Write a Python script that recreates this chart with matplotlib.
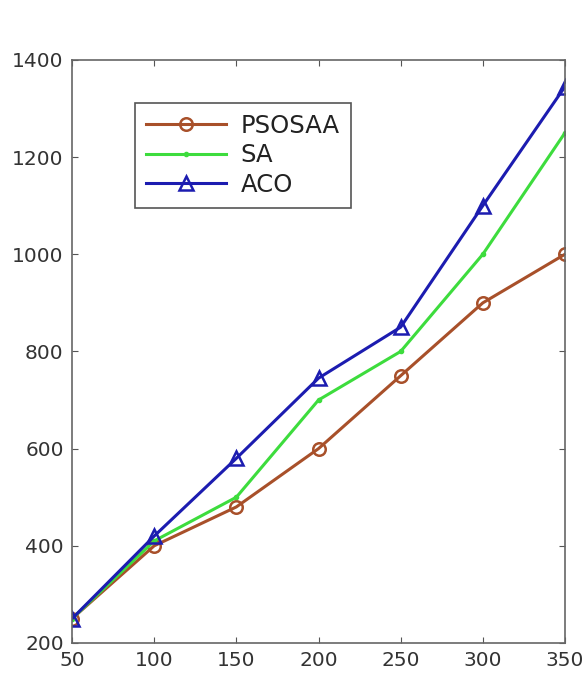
import matplotlib
matplotlib.use("Agg")
import matplotlib.pyplot as plt

plt.rcParams['font.family'] = ['DejaVu Sans']

x = [50, 100, 150, 200, 250, 300, 350]
psosaa = [250, 400, 480, 600, 750, 900, 1000]
sa = [250, 410, 500, 700, 800, 1000, 1250]
aco = [250, 420, 580, 745, 850, 1100, 1345]
xticks = [50, 100, 150, 200, 250, 300, 350]
yticks = [200, 400, 600, 800, 1000, 1200, 1400]

fig = plt.figure(figsize=(5.87, 6.73), dpi=100)
ax = fig.add_axes([0.1227, 0.0446, 0.8398, 0.8664])

ax.plot(x, psosaa, color="#a8502a", lw=2.2, marker="o", ms=9, mfc="none", mew=1.8, label="PSOSAA")
ax.plot(x, sa, color="#3ddc3d", lw=2.2, marker=".", ms=6, label="SA")
ax.plot(x, aco, color="#1c1cb0", lw=2.2, marker="^", ms=10, mfc="none", mew=1.8, label="ACO")

ax.set_xlim(50, 350)
ax.set_ylim(200, 1400)
ax.set_xticks(xticks)
ax.set_yticks(yticks)
ax.tick_params(direction="in", length=4, labelsize=14.5, labelcolor="#333333", color="#555555",
               top=True, right=True)
ax.tick_params(axis="x", pad=6)
ax.tick_params(axis="y", pad=6)
for s in ax.spines.values():
    s.set_color("#666666")
    s.set_linewidth(1.2)

leg = ax.legend(loc="upper left", bbox_to_anchor=(0.128, 0.926), fontsize=17.5, fancybox=False,
                edgecolor="#555555", framealpha=1, handlelength=3.3, handletextpad=0.6,
                borderpad=0.45, labelspacing=0.22, borderaxespad=0)
leg.get_frame().set_linewidth(1.2)
for t in leg.get_texts():
    t.set_color("#222222")

fig.savefig("out.png", dpi=100)
